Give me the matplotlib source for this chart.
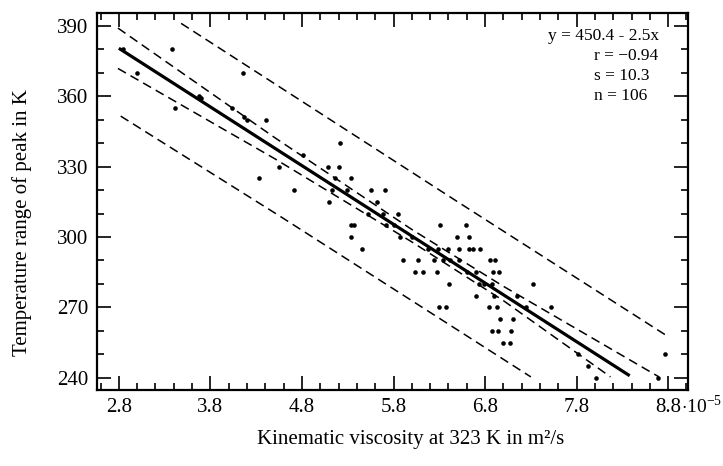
import matplotlib
matplotlib.use('Agg')
import matplotlib.pyplot as plt
import numpy as np
from matplotlib.ticker import FixedLocator, MultipleLocator
from matplotlib.transforms import blended_transform_factory

plt.rcParams['font.family'] = ['Liberation Serif', 'DejaVu Serif']
plt.rcParams['mathtext.fontset'] = 'custom'
plt.rcParams['mathtext.rm'] = 'Liberation Serif'

# measured points (viscosity in 1e-5 m2/s, temperature range in K)
visc = [2.85, 3.00, 3.38, 3.41, 3.68, 3.70, 4.04, 4.16, 4.17, 4.20, 4.41, 4.33, 4.55, 4.71, 4.81,
        5.08, 5.09, 5.13, 5.16, 5.21, 5.22, 5.29, 5.34, 5.34, 5.37, 5.34, 5.46,
        5.55, 5.71, 5.62, 5.52, 5.69, 5.85, 5.72, 5.81, 5.87, 6.00,
        5.90, 6.07, 6.03, 6.12, 6.27, 6.18, 6.29, 6.40, 6.31, 6.59, 6.49, 6.63,
        6.52, 6.62, 6.67, 6.74, 6.24, 6.34, 6.42, 6.51, 6.41, 6.60, 6.70,
        6.85, 6.91, 6.89, 6.95, 6.70, 6.73, 6.79, 6.88, 6.90, 7.15, 7.32,
        6.30, 6.37, 6.84, 6.93, 7.25, 7.52, 6.96, 7.10, 6.88, 6.94, 7.08, 7.00, 7.07,
        7.82, 7.92, 8.01, 8.69, 8.77]
temp = [380, 370, 380, 355, 360, 359, 355, 370, 351, 350, 350, 325, 330, 320, 335,
        330, 315, 320, 325, 330, 340, 320, 325, 305, 305, 300, 295,
        320, 320, 315, 310, 310, 310, 305, 305, 300, 300,
        290, 290, 285, 285, 285, 295, 295, 295, 305, 305, 300, 300,
        295, 295, 295, 295, 290, 290, 290, 290, 280, 285, 285,
        290, 290, 285, 285, 275, 280, 280, 280, 275, 275, 280,
        270, 270, 270, 270, 270, 270, 265, 265, 260, 260, 260, 255, 255,
        250, 245, 240, 240, 250]

# regression line end points
fit_x = [2.80, 8.38]
fit_y = [380.4, 240.9]

# confidence band (inner dashed)
conf_up_x = [2.79, 4.5, 6.0, 7.0, 8.70]
conf_up_y = [389.0, 342.4, 303.2, 279.0, 240.4]
conf_lo_x = [2.79, 4.5, 6.0, 7.0, 8.17]
conf_lo_y = [371.8, 333.4, 297.9, 272.9, 240.4]

# prediction band (outer dashed)
pred_up_x = [3.48, 6.50, 8.79]
pred_up_y = [391.0, 315.0, 257.8]
pred_lo_x = [2.82, 4.57, 7.30]
pred_lo_y = [351.5, 308.6, 240.4]

xticks = [2.8, 3.8, 4.8, 5.8, 6.8, 7.8, 8.8]
xticklabels = ['2.8', '3.8', '4.8', '5.8', '6.8', '7.8', '8.8']
yticks = [240, 270, 300, 330, 360, 390]

stats = ['r = \u22120.94', 's = 10.3', 'n = 106']

fig = plt.figure(figsize=(7.23, 4.66), dpi=100)
ax = fig.add_axes([0.134, 0.163, 0.818, 0.809])

dash = (6, 3.5)
for bx, by in [(pred_up_x, pred_up_y), (pred_lo_x, pred_lo_y),
               (conf_up_x, conf_up_y), (conf_lo_x, conf_lo_y)]:
    ax.plot(bx, by, color='black', lw=1.1, dashes=dash)
ax.plot(fit_x, fit_y, color='black', lw=2.3, solid_capstyle='butt')
ax.plot(visc, temp, 'o', color='black', ms=3.3, mec='none')

ax.set_xlim(2.56, 9.02)
ax.set_ylim(234.8, 395.4)

ax.xaxis.set_major_locator(FixedLocator(xticks))
ax.set_xticklabels(xticklabels)
ax.xaxis.set_minor_locator(FixedLocator(np.arange(2.6, 9.01, 0.2)))
ax.yaxis.set_major_locator(FixedLocator(yticks))
ax.yaxis.set_minor_locator(MultipleLocator(10))

ax.tick_params(which='both', direction='in', top=True, right=True,
               labelsize=15, width=1.2, colors='black')
ax.tick_params(which='major', length=10, pad=6)
ax.tick_params(which='minor', length=5)
for sp in ax.spines.values():
    sp.set_linewidth(1.6)

# exponent next to the last tick label
trans = blended_transform_factory(ax.transData, ax.transAxes)
ax.annotate(r'$\cdot$10$^{-5}$', xy=(8.8, 0), xycoords=trans,
            xytext=(9, -16.5), textcoords='offset points',
            ha='left', va='baseline', fontsize=14)

ax.set_xlabel('Kinematic viscosity at 323 K in m\u00b2/s', fontsize=15, labelpad=9)
ax.set_ylabel('Temperature range of peak in K', fontsize=15, labelpad=18)
ax.xaxis.label.set_x(0.531)
ax.yaxis.label.set_y(0.443)

ax.text(8.70, 385.6, 'y = 450.4 - 2.5x', ha='right', va='center', fontsize=12.5)
for i, s in enumerate(stats):
    ax.text(7.99, 377.1 - 8.5 * i, s, ha='left', va='center', fontsize=12.5)

fig.savefig('out.png', dpi=100)
